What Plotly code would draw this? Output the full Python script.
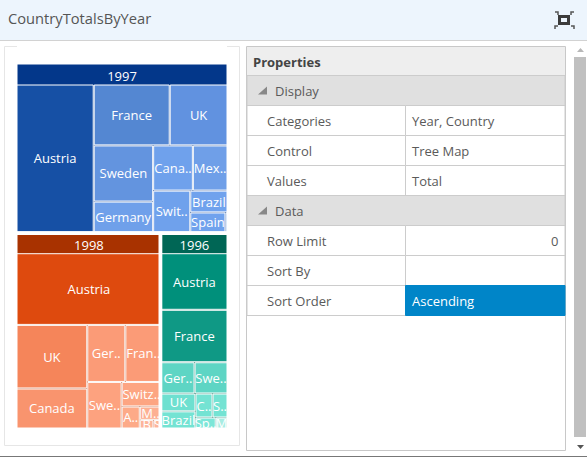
import plotly.graph_objects as go

W, H = 587, 457

# treemap data, values
years = ["1997", "1998", "1996"]
year_colors = ["#03378a", "#a83200", "#006655"]

countries_1997 = ["Austria", "France", "UK", "Sweden", "Germany", "Canada", "Mexico", "Switzerland", "Brazil", "Spain", "Other"]
labels_1997 = ["Austria", "France", "UK", "Sweden", "Germany", "Cana..", "Mex..", "Swit..", "Brazil", "Spain", " "]
values_1997 = [10900, 4425, 3363, 3190, 1740, 1716, 1496, 1476, 777, 665, 38]
colors_1997 = ["#1650a5", "#5487d2", "#6192e0", "#6394df", "#6fa0ea", "#6fa1ec", "#6f9fe8", "#6fa1ec", "#70a2ed", "#70a2ed", "#74a6f0"]

countries_1998 = ["Austria", "UK", "Canada", "Germany", "France", "Sweden", "Switzerland", "Argentina", "Mexico", "Brazil", "Spain"]
labels_1998 = ["Austria", "UK", "Canada", "Ger..", "Fran..", "Swe..", "Switz..", "A..", "M..", "B", "S"]
values_1998 = [9729, 4216, 2652, 2035, 1925, 1500, 912, 374, 270, 110, 64]
colors_1998 = ["#de4a0e", "#f5855a", "#f9946e", "#fb9b77", "#fb9b77", "#fda27f", "#fda582", "#fdaa88", "#fdb093", "#fdb59a", "#fdb59a"]

countries_1996 = ["Austria", "France", "Germany", "Sweden", "UK", "Brazil", "Canada", "Switzerland", "Spain", "Mexico"]
labels_1996 = ["Austria", "France", "Ger..", "Swe..", "UK", "Brazil", "C..", "S..", "Sp..", "M"]
values_1996 = [3510, 3250, 975, 965, 570, 550, 384, 336, 209, 121]
colors_1996 = ["#00907b", "#0f9985", "#5ed5c4", "#5ed5c4", "#6ee0d0", "#74e3d3", "#74e3d3", "#74e3d3", "#7ce6d8", "#a8ece2"]

# cells too small for the normal label size
small_cells = ["1998/Mexico", "1998/Brazil", "1998/Spain", "1996/Spain", "1996/Mexico"]

# property grid text
section_names = ["Display", "Data"]
display_props = ["Categories", "Control", "Values"]
display_vals = ["Year, Country", "Tree Map", "Total"]
data_props = ["Row Limit", "Sort By", "Sort Order"]
data_vals = ["0", "", "Ascending"]

ids, labels, parents, values, colors = [], [], [], [], []
for y, c in zip(years, year_colors):
    ids.append(y)
    labels.append(y)
    parents.append("")
    values.append(0)
    colors.append(c)

for y, names, labs, vals, cols in [
    ("1997", countries_1997, labels_1997, values_1997, colors_1997),
    ("1998", countries_1998, labels_1998, values_1998, colors_1998),
    ("1996", countries_1996, labels_1996, values_1996, colors_1996),
]:
    for n, l, v, c in zip(names, labs, vals, cols):
        ids.append(y + "/" + n)
        labels.append(l)
        parents.append(y)
        values.append(v)
        colors.append(c)

font_sizes = [8 if i in small_cells else 13 for i in ids]

fig = go.Figure(go.Treemap(
    ids=ids, labels=labels, parents=parents, values=values,
    branchvalues="remainder", sort=False, textinfo="label",
    textposition="middle center",
    textfont=dict(family="Open Sans", size=font_sizes, color="white"),
    marker=dict(colors=colors, line=dict(color="white", width=1), pad=dict(t=21, l=0, r=0, b=0)),
    tiling=dict(packing="squarify", squarifyratio=1, pad=1),
    pathbar=dict(visible=False),
    root=dict(color="white"),
    domain=dict(x=[17 / W, 227 / W], y=[1 - 428 / H, 1 - 43 / H]),
))


def box(x0, y0, x1, y1, fill="rgba(0,0,0,0)", line=None, width=1, layer="below"):
    fig.add_shape(type="rect", xref="paper", yref="paper", layer=layer,
                  x0=x0 / W, x1=x1 / W, y0=1 - y0 / H, y1=1 - y1 / H,
                  fillcolor=fill, line=dict(color=line, width=width) if line else dict(width=0))


def txt(x, y, s, size=13, color="#5a5a5a", anchor="left", family="Open Sans"):
    fig.add_annotation(x=x / W, y=1 - y / H, xref="paper", yref="paper", text=s, showarrow=False,
                       xanchor=anchor, yanchor="middle", font=dict(family=family, size=size, color=color))


def tri(path, color):
    fig.add_shape(type="path", xref="paper", yref="paper", layer="above", path=path,
                  fillcolor=color, line=dict(width=0))


def p(x, y):
    return f"{x / W} {1 - y / H}"


# wider gaps between the year groups
box(17, 231.5, 228, 235, fill="white", layer="above")
box(158.5, 235, 162, 429, fill="white", layer="above")

# title bar
box(0, 0, W, 40, fill="#edf5fd")
box(0, 40, W, 41, fill="#d2d2d2")
txt(6, 18, "CountryTotalsByYear", size=14.7, color="#555555")

# window icon
box(559.5, 16.5, 568.5, 23.5, line="#3c3c3c", width=3)
for x0, xc, y0, y1 in [(555, 558, 12, 15), (574, 571, 12, 15), (558, 555, 26, 29), (571, 574, 26, 29)]:
    fig.add_shape(type="path", xref="paper", yref="paper", layer="below",
                  path=f"M {p(x0, y0)} L {p(xc, y0)} L {p(xc, y1)}",
                  line=dict(color="#555555", width=1.5))

# left panel
box(4.5, 46.5, 239.5, 445.5, fill="white", line="#e6e6e6")

# right panel
box(246.5, 46.5, 565.5, 450.5, fill="white", line="#c8c8c8")
box(247, 47, 565, 75, fill="#eeeeee")
txt(251, 62, "<b>Properties</b>", size=13, color="#444444")

y = 75.5
for name, props, vals in [(section_names[0], display_props, display_vals), (section_names[1], data_props, data_vals)]:
    box(247, y, 565, y + 30, fill="#e0e0e0", line="#cccccc")
    tri(f"M {p(258, y + 19)} L {p(267, y + 19)} L {p(267, y + 11)} Z", "#888888")
    txt(273, y + 15.5, name)
    y += 30
    for prop, val in zip(props, vals):
        selected = prop == "Sort Order"
        box(247, y, 405.5, y + 30, fill="white", line="#cccccc")
        box(405.5, y, 565, y + 30, fill="#0085c8" if selected else "white", line="#0085c8" if selected else "#cccccc")
        txt(265, y + 15.5, prop)
        if val == "0":
            txt(560, y + 15.5, val, anchor="right")
        elif val:
            txt(410, y + 15.5, val, color="white" if selected else "#5a5a5a")
        y += 30

# scrollbar
box(574, 57, 586, 437, fill="#c0c0c0")
tri(f"M {p(577, 52)} L {p(584, 52)} L {p(580.5, 48)} Z", "#b8b8b8")
tri(f"M {p(577, 445)} L {p(584, 445)} L {p(580.5, 449)} Z", "#555555")

# window bottom edge
box(0, 456, W, 457, fill="#777777")

fig.update_layout(width=W, height=H, margin=dict(l=0, r=0, t=0, b=0), paper_bgcolor="white",
                  uniformtext=dict(minsize=13, mode="show"), showlegend=False)
fig.write_html("out.html", config=dict(displayModeBar=False),
               post_script="document.body.style.margin='0';document.body.style.overflow='hidden';")
